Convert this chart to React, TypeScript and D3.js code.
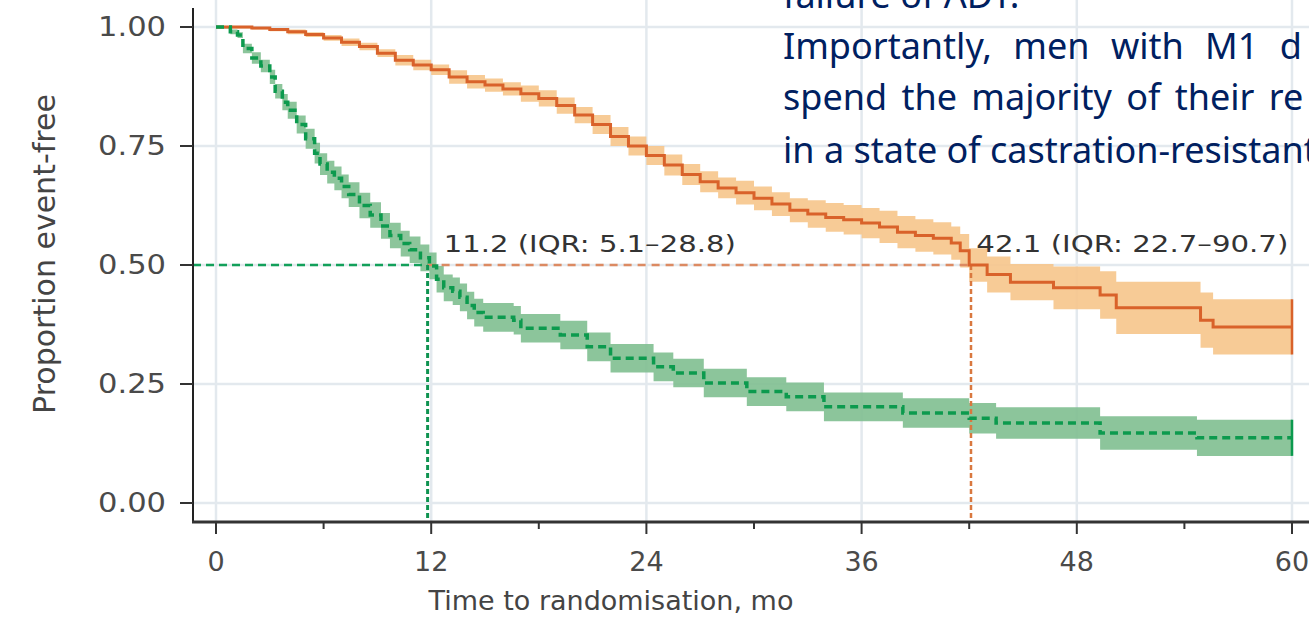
import React from 'react';
import * as d3 from 'd3';

// axis ticks
const xTicks = [0, 12, 24, 36, 48, 60];
const xMinorTicks = [6, 18, 30, 42, 54];
const yTicks = [0, 0.25, 0.5, 0.75, 1];
const yTickLabels = ['0.00', '0.25', '0.50', '0.75', '1.00'];

// orange arm (months, proportion event-free, 95% band)
const orangeTime = [0, 1, 2, 3, 4, 5, 6, 7, 8, 9, 10, 11, 12, 13, 14, 15, 16, 17, 18, 19, 20, 21, 22, 23, 24, 25, 26, 27, 28, 29, 30, 31, 32, 33, 34, 35, 36, 37, 38, 39, 40, 41, 41.5, 42, 43, 44.3, 46.7, 49.3, 50.2, 54.9, 55.6, 60];
const orangeSurv = [1.0, 1.0, 0.998, 0.995, 0.99, 0.984, 0.977, 0.968, 0.959, 0.945, 0.93, 0.92, 0.91, 0.895, 0.885, 0.878, 0.87, 0.86, 0.85, 0.835, 0.815, 0.795, 0.77, 0.75, 0.73, 0.71, 0.69, 0.675, 0.662, 0.652, 0.64, 0.628, 0.615, 0.607, 0.6, 0.595, 0.588, 0.58, 0.569, 0.562, 0.556, 0.546, 0.53, 0.5, 0.48, 0.464, 0.452, 0.437, 0.41, 0.384, 0.37, 0.37];
const orangeLow = [0.997, 0.997, 0.995, 0.991, 0.985, 0.979, 0.971, 0.96, 0.951, 0.937, 0.919, 0.909, 0.899, 0.881, 0.871, 0.864, 0.856, 0.843, 0.833, 0.818, 0.798, 0.775, 0.75, 0.73, 0.71, 0.688, 0.668, 0.653, 0.64, 0.627, 0.615, 0.603, 0.59, 0.578, 0.57, 0.564, 0.556, 0.546, 0.535, 0.528, 0.522, 0.511, 0.495, 0.465, 0.442, 0.426, 0.407, 0.387, 0.355, 0.326, 0.312, 0.312];
const orangeHigh = [1.0, 1.0, 1.0, 0.998, 0.995, 0.989, 0.983, 0.976, 0.967, 0.953, 0.941, 0.931, 0.921, 0.909, 0.899, 0.892, 0.884, 0.877, 0.867, 0.852, 0.832, 0.815, 0.79, 0.77, 0.75, 0.732, 0.712, 0.697, 0.684, 0.677, 0.665, 0.653, 0.64, 0.636, 0.63, 0.626, 0.62, 0.614, 0.603, 0.596, 0.59, 0.581, 0.565, 0.535, 0.518, 0.502, 0.497, 0.487, 0.465, 0.442, 0.428, 0.428];

// green arm
const greenTime = [0, 0.8, 1.2, 1.5, 2.0, 2.5, 3.0, 3.3, 3.7, 4.0, 4.5, 5.0, 5.5, 5.8, 6.2, 6.6, 7.0, 7.4, 8.0, 8.6, 9.2, 9.7, 10.3, 10.8, 11.4, 11.9, 12.3, 12.7, 13.2, 13.6, 14.0, 14.4, 14.9, 16.6, 17, 19.2, 20.7, 22, 24.4, 25.5, 27.2, 29.6, 31.8, 33.9, 38.3, 42, 43.5, 49.3, 54.7, 60];
const greenSurv = [1.0, 0.99, 0.983, 0.955, 0.935, 0.918, 0.895, 0.865, 0.842, 0.825, 0.795, 0.765, 0.735, 0.712, 0.695, 0.682, 0.665, 0.648, 0.625, 0.605, 0.582, 0.562, 0.545, 0.532, 0.515, 0.498, 0.47, 0.452, 0.445, 0.432, 0.415, 0.4, 0.39, 0.384, 0.367, 0.353, 0.328, 0.304, 0.286, 0.273, 0.252, 0.234, 0.223, 0.202, 0.189, 0.178, 0.168, 0.147, 0.137, 0.137];
const greenLow = [0.997, 0.985, 0.977, 0.945, 0.923, 0.905, 0.88, 0.85, 0.825, 0.807, 0.776, 0.744, 0.713, 0.689, 0.671, 0.657, 0.64, 0.622, 0.598, 0.578, 0.555, 0.535, 0.518, 0.504, 0.487, 0.47, 0.442, 0.424, 0.416, 0.403, 0.386, 0.371, 0.36, 0.354, 0.337, 0.323, 0.298, 0.274, 0.256, 0.243, 0.222, 0.204, 0.193, 0.172, 0.158, 0.146, 0.135, 0.112, 0.099, 0.099];
const greenHigh = [1.0, 0.995, 0.989, 0.965, 0.947, 0.931, 0.91, 0.88, 0.859, 0.843, 0.814, 0.786, 0.757, 0.735, 0.719, 0.707, 0.69, 0.674, 0.652, 0.632, 0.609, 0.589, 0.572, 0.56, 0.543, 0.526, 0.498, 0.48, 0.474, 0.461, 0.444, 0.429, 0.42, 0.414, 0.397, 0.383, 0.358, 0.334, 0.316, 0.303, 0.282, 0.264, 0.253, 0.232, 0.22, 0.21, 0.201, 0.182, 0.175, 0.175];

const greenMedian = 11.8;
const orangeMedian = 42.1;
const greenLabel = '11.2 (IQR: 5.1–28.8)';
const orangeLabel = '42.1 (IQR: 22.7–90.7)';

const slideLines = ['failure of ADT.', 'Importantly, men with M1 d', 'spend the majority of their re', 'in a state of castration-resistant'];

type Pt = { t: number; s: number; lo: number; hi: number };

const width = 1309;
const height = 619;
const axisX = 193;
const axisY = 522;

const x = d3.scaleLinear().domain([0, 60]).range([216, 1292]);
const y = d3.scaleLinear().domain([0, 1]).range([503, 27]);

const toPts = (time: number[], surv: number[], low: number[], high: number[]): Pt[] =>
  time.map((t, i) => ({ t, s: surv[i], lo: low[i], hi: high[i] }));

const orange = toPts(orangeTime, orangeSurv, orangeLow, orangeHigh);
const green = toPts(greenTime, greenSurv, greenLow, greenHigh);

const line = d3
  .line<Pt>()
  .x((d) => x(d.t))
  .y((d) => y(d.s))
  .curve(d3.curveStepAfter);

const band = d3
  .area<Pt>()
  .x((d) => x(d.t))
  .y0((d) => y(d.lo))
  .y1((d) => y(d.hi))
  .curve(d3.curveStepAfter);

const chartFont = "'DejaVu Sans', Verdana, sans-serif";
const gridColor = '#e3e9ee';

export default function App() {
  const oEnd = orange[orange.length - 1];
  const gEnd = green[green.length - 1];
  return (
    <svg
      width={width}
      height={height}
      style={{ position: 'absolute', left: 0, top: 0, background: '#fff' }}
    >
      {/* grid */}
      {xTicks.map((t) => (
        <line key={'gx' + t} x1={x(t)} x2={x(t)} y1={0} y2={axisY} stroke={gridColor} strokeWidth={2.5} />
      ))}
      {yTicks.map((v) => (
        <line key={'gy' + v} x1={axisX} x2={width} y1={y(v)} y2={y(v)} stroke={gridColor} strokeWidth={2.5} />
      ))}

      {/* confidence bands */}
      <path d={band(orange) || ''} fill="#f6c58b" opacity={0.9} />
      <path d={band(green) || ''} fill="#7fbf90" opacity={0.9} />

      {/* median guides */}
      <line x1={axisX} x2={x(greenMedian)} y1={y(0.5)} y2={y(0.5)} stroke="#12a05a" strokeWidth={2.5} strokeDasharray="8,5" />
      <line x1={x(greenMedian)} x2={x(orangeMedian)} y1={y(0.5)} y2={y(0.5)} stroke="#dc8a62" strokeWidth={2.5} strokeDasharray="8,6" />
      <line x1={x(greenMedian)} x2={x(greenMedian)} y1={y(0.5)} y2={axisY} stroke="#0e9350" strokeWidth={3} strokeDasharray="5,3" />
      <line x1={x(orangeMedian)} x2={x(orangeMedian)} y1={y(0.5)} y2={axisY} stroke="#d9783f" strokeWidth={2.5} strokeDasharray="5,3" />

      {/* survival curves */}
      <path d={line(orange) || ''} fill="none" stroke="#d9622a" strokeWidth={3} />
      <path d={line(green) || ''} fill="none" stroke="#0c9a4e" strokeWidth={3.5} strokeDasharray="8,5" />
      <line x1={x(oEnd.t)} x2={x(oEnd.t)} y1={y(oEnd.hi)} y2={y(oEnd.lo)} stroke="#d9622a" strokeWidth={2.5} />
      <line x1={x(gEnd.t)} x2={x(gEnd.t)} y1={y(gEnd.hi)} y2={y(gEnd.lo)} stroke="#0c9a4e" strokeWidth={2.5} />

      {/* annotations */}
      <text x={x(12.7)} y={252} fontFamily={chartFont} fontSize={23} fill="#333" textLength={292} lengthAdjust="spacingAndGlyphs">
        {greenLabel}
      </text>
      <text x={x(42.4)} y={252} fontFamily={chartFont} fontSize={23} fill="#333" textLength={312} lengthAdjust="spacingAndGlyphs">
        {orangeLabel}
      </text>

      {/* y axis */}
      <line x1={axisX} x2={axisX} y1={8} y2={axisY + 1} stroke="#222" strokeWidth={2} />
      {yTicks.map((v, i) => (
        <g key={'yt' + v}>
          <line x1={180} x2={axisX} y1={y(v)} y2={y(v)} stroke="#333" strokeWidth={2} />
          <text
            x={166}
            y={y(v) + 9}
            textAnchor="end"
            fontFamily={chartFont}
            fontSize={26}
            fill="#4a4a4a"
            textLength={68}
            lengthAdjust="spacingAndGlyphs"
          >
            {yTickLabels[i]}
          </text>
        </g>
      ))}
      <text
        transform={`translate(55, 254) rotate(-90)`}
        textAnchor="middle"
        fontFamily={chartFont}
        fontSize={30}
        fill="#444"
      >
        Proportion event-free
      </text>

      {/* x axis */}
      <line x1={axisX - 1} x2={width} y1={axisY} y2={axisY} stroke="#333" strokeWidth={3} />
      {xTicks.map((t) => (
        <g key={'xt' + t}>
          <line x1={x(t)} x2={x(t)} y1={axisY} y2={axisY + 12} stroke="#333" strokeWidth={2} />
          <text x={x(t)} y={571} textAnchor="middle" fontFamily={chartFont} fontSize={27} fill="#4a4a4a">
            {t}
          </text>
        </g>
      ))}
      {xMinorTicks.map((t) => (
        <line key={'xm' + t} x1={x(t)} x2={x(t)} y1={axisY} y2={axisY + 7} stroke="#333" strokeWidth={2} />
      ))}
      <text x={611} y={610} textAnchor="middle" fontFamily={chartFont} fontSize={27} fill="#444">
        Time to randomisation, mo
      </text>

      {/* slide text over the chart */}
      <g fontFamily="'Noto Sans', 'Open Sans', sans-serif" fontSize={36} fill="#002060">
        <text x={783} y={8}>{slideLines[0]}</text>
        <text x={783} y={59} wordSpacing={12}>{slideLines[1]}</text>
        <text x={783} y={110} wordSpacing={5}>{slideLines[2]}</text>
        <text x={783} y={163}>{slideLines[3]}</text>
      </g>
    </svg>
  );
}
